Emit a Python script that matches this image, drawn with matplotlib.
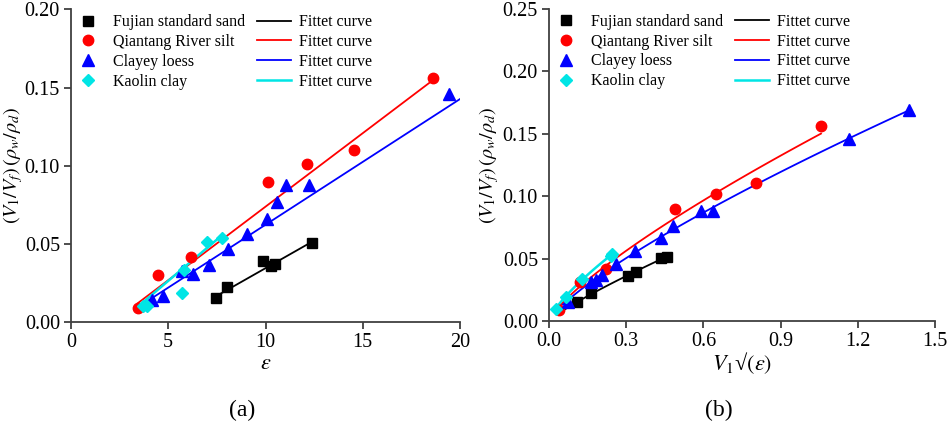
import numpy as np
import matplotlib
matplotlib.use("Agg")
from matplotlib import pyplot as plt
from matplotlib.lines import Line2D

plt.rcParams["font.family"] = ["Liberation Serif", "DejaVu Serif"]
plt.rcParams["mathtext.fontset"] = "stix"

# ---- panel (a): data vs epsilon ----
sand_eps = [7.44, 8.02, 9.85, 10.30, 10.49, 12.37]
sand_a = [0.0151, 0.0222, 0.0392, 0.0356, 0.0371, 0.0508]
silt_eps = [3.43, 4.49, 6.15, 10.15, 12.12, 14.53, 18.63]
silt_a = [0.0092, 0.0300, 0.0413, 0.0895, 0.1010, 0.1100, 0.1560]
loess_eps = [4.15, 4.75, 5.69, 6.29, 7.08, 8.05, 9.03, 10.06, 10.57, 11.04, 12.25, 19.45]
loess_a = [0.0143, 0.0164, 0.0324, 0.0307, 0.0366, 0.0466, 0.0564, 0.0660, 0.0765,
           0.0875, 0.0875, 0.1457]
kaolin_eps = [3.72, 3.89, 5.69, 5.83, 6.97, 7.75]
kaolin_a = [0.0100, 0.0100, 0.0185, 0.0334, 0.0511, 0.0540]

# fitted lines (x ends, y ends)
fit_a_x = {"sand": [7.32, 12.37], "silt": [3.43, 18.63], "loess": [3.63, 20.0], "kaolin": [3.55, 7.75]}
fit_a_y = {"sand": [0.0155, 0.0512], "silt": [0.0120, 0.1550], "loess": [0.0110, 0.1427],
           "kaolin": [0.0110, 0.0554]}

# ---- panel (b): data vs V1*sqrt(eps) ----
sand_v = [0.110, 0.165, 0.306, 0.338, 0.436, 0.457]
sand_b = [0.0152, 0.0222, 0.0361, 0.0396, 0.0503, 0.0513]
silt_v = [0.039, 0.120, 0.220, 0.490, 0.650, 0.805, 1.058]
silt_b = [0.0091, 0.0310, 0.0420, 0.0896, 0.1016, 0.1108, 0.1560]
loess_v = [0.075, 0.162, 0.181, 0.207, 0.259, 0.336, 0.434, 0.483, 0.592, 0.636, 1.166, 1.400]
loess_b = [0.0152, 0.0310, 0.0330, 0.0366, 0.0460, 0.0560, 0.0666, 0.0762, 0.0880,
           0.0880, 0.1458, 0.1690]
kaolin_v = [0.026, 0.065, 0.130, 0.240, 0.246]
kaolin_b = [0.0099, 0.0193, 0.0340, 0.0520, 0.0540]

# x range of each fitted curve in (b)
fit_b_range = {"sand": [0.062, 0.457], "silt": [0.039, 1.057], "loess": [0.054, 1.400],
               "kaolin": [0.026, 0.246]}

colors = {"sand": "black", "silt": "#ff0000", "loess": "#0000ff", "kaolin": "#00e5e5"}
markers = {"sand": "s", "silt": "o", "loess": "^", "kaolin": "D"}
msizes = {"sand": 6.5, "silt": 7.5, "loess": 8, "kaolin": 6.5}
names = {"sand": "Fujian standard sand", "silt": "Qiantang River silt",
         "loess": "Clayey loess", "kaolin": "Kaolin clay"}
keys = ["sand", "silt", "loess", "kaolin"]

data_a = {"sand": (sand_eps, sand_a), "silt": (silt_eps, silt_a),
          "loess": (loess_eps, loess_a), "kaolin": (kaolin_eps, kaolin_a)}
data_b = {"sand": (sand_v, sand_b), "silt": (silt_v, silt_b),
          "loess": (loess_v, loess_b), "kaolin": (kaolin_v, kaolin_b)}


def power_fit(x, y):
    # least squares y = a * x**b, scanning b
    x = np.asarray(x)
    y = np.asarray(y)
    best = None
    for b in np.linspace(0.4, 1.4, 1001):
        xb = x ** b
        a = np.sum(y * xb) / np.sum(xb * xb)
        err = np.sum((y - a * xb) ** 2)
        if best is None or err < best[0]:
            best = (err, a, b)
    return best[1], best[2]


fig = plt.figure(figsize=(9.48, 4.23), dpi=100)
ax1 = fig.add_axes([71 / 948, 1 - 322 / 423, 389 / 948, 312.5 / 423])
ax2 = fig.add_axes([549 / 948, 1 - 321 / 423, 386 / 948, 312 / 423])

spine_col = "#404040"


def style(ax):
    for s in ["top", "right"]:
        ax.spines[s].set_visible(False)
    for s in ["left", "bottom"]:
        ax.spines[s].set_color(spine_col)
        ax.spines[s].set_linewidth(1.3)
    ax.tick_params(direction="out", length=5, width=1.3, color=spine_col,
                   labelsize=14.5, pad=3)


def legend(ax):
    hs = [Line2D([], [], ls="none", marker=markers[k], color=colors[k], ms=msizes[k])
          for k in keys]
    hl = [Line2D([], [], color=colors[k], lw=1.3 if k != "kaolin" else 1.8) for k in keys]
    ax.legend(hs + hl, [names[k] for k in keys] + ["Fittet curve"] * 4, ncol=2,
              loc="upper left", bbox_to_anchor=(0.0, 0.985), frameon=False,
              fontsize=11.5, handlelength=2.1, handletextpad=0.5, columnspacing=0.8,
              labelspacing=0.24, borderaxespad=0.0, borderpad=0.0)


ylab = r"$(V_1/V_f)\,(\rho_w/\rho_d)$"

# panel (a)
for k in keys:
    ax1.plot(fit_a_x[k], fit_a_y[k], color=colors[k], lw=1.3 if k != "kaolin" else 1.8,
             zorder=2, clip_on=True)
    x, y = data_a[k]
    ax1.plot(x, y, ls="none", marker=markers[k], color=colors[k], ms=msizes[k], zorder=3)
ax1.set_xlim(0, 20)
ax1.set_ylim(0, 0.20)
ax1.set_xticks([0, 5, 10, 15, 20])
ax1.set_yticks([0.00, 0.05, 0.10, 0.15, 0.20])
ax1.yaxis.set_major_formatter(matplotlib.ticker.FormatStrFormatter("%.2f"))
ax1.set_xlabel(r"$\varepsilon$", fontsize=16)
ax1.xaxis.set_label_coords(0.5, -0.106)
ax1.set_ylabel(ylab, fontsize=14.5)
ax1.yaxis.set_label_coords(-0.118, 0.5)
style(ax1)
legend(ax1)

# panel (b): power-law fit of each series
for k in keys:
    x, y = data_b[k]
    a, b = power_fit(x, y)
    xf = np.linspace(fit_b_range[k][0], fit_b_range[k][1], 60)
    ax2.plot(xf, a * xf ** b, color=colors[k],
             lw=1.3 if k != "kaolin" else 1.8, zorder=2)
    ax2.plot(x, y, ls="none", marker=markers[k], color=colors[k], ms=msizes[k], zorder=3)
ax2.set_xlim(0, 1.5)
ax2.set_ylim(0, 0.25)
ax2.set_xticks([0.0, 0.3, 0.6, 0.9, 1.2, 1.5])
ax2.set_yticks([0.00, 0.05, 0.10, 0.15, 0.20, 0.25])
ax2.xaxis.set_major_formatter(matplotlib.ticker.FormatStrFormatter("%.1f"))
ax2.yaxis.set_major_formatter(matplotlib.ticker.FormatStrFormatter("%.2f"))
ax2.set_xlabel(r"$V_1$" + "\u221a" + r"$(\varepsilon)$", fontsize=16)
ax2.xaxis.set_label_coords(0.5, -0.093)
ax2.set_ylabel(ylab, fontsize=14.5)
ax2.yaxis.set_label_coords(-0.125, 0.5)
style(ax2)
legend(ax2)

fig.text(242 / 948, 1 - 410 / 423, "(a)", fontsize=17, ha="center", va="center")
fig.text(719 / 948, 1 - 410 / 423, "(b)", fontsize=17, ha="center", va="center")

fig.savefig("out.png", dpi=100)
